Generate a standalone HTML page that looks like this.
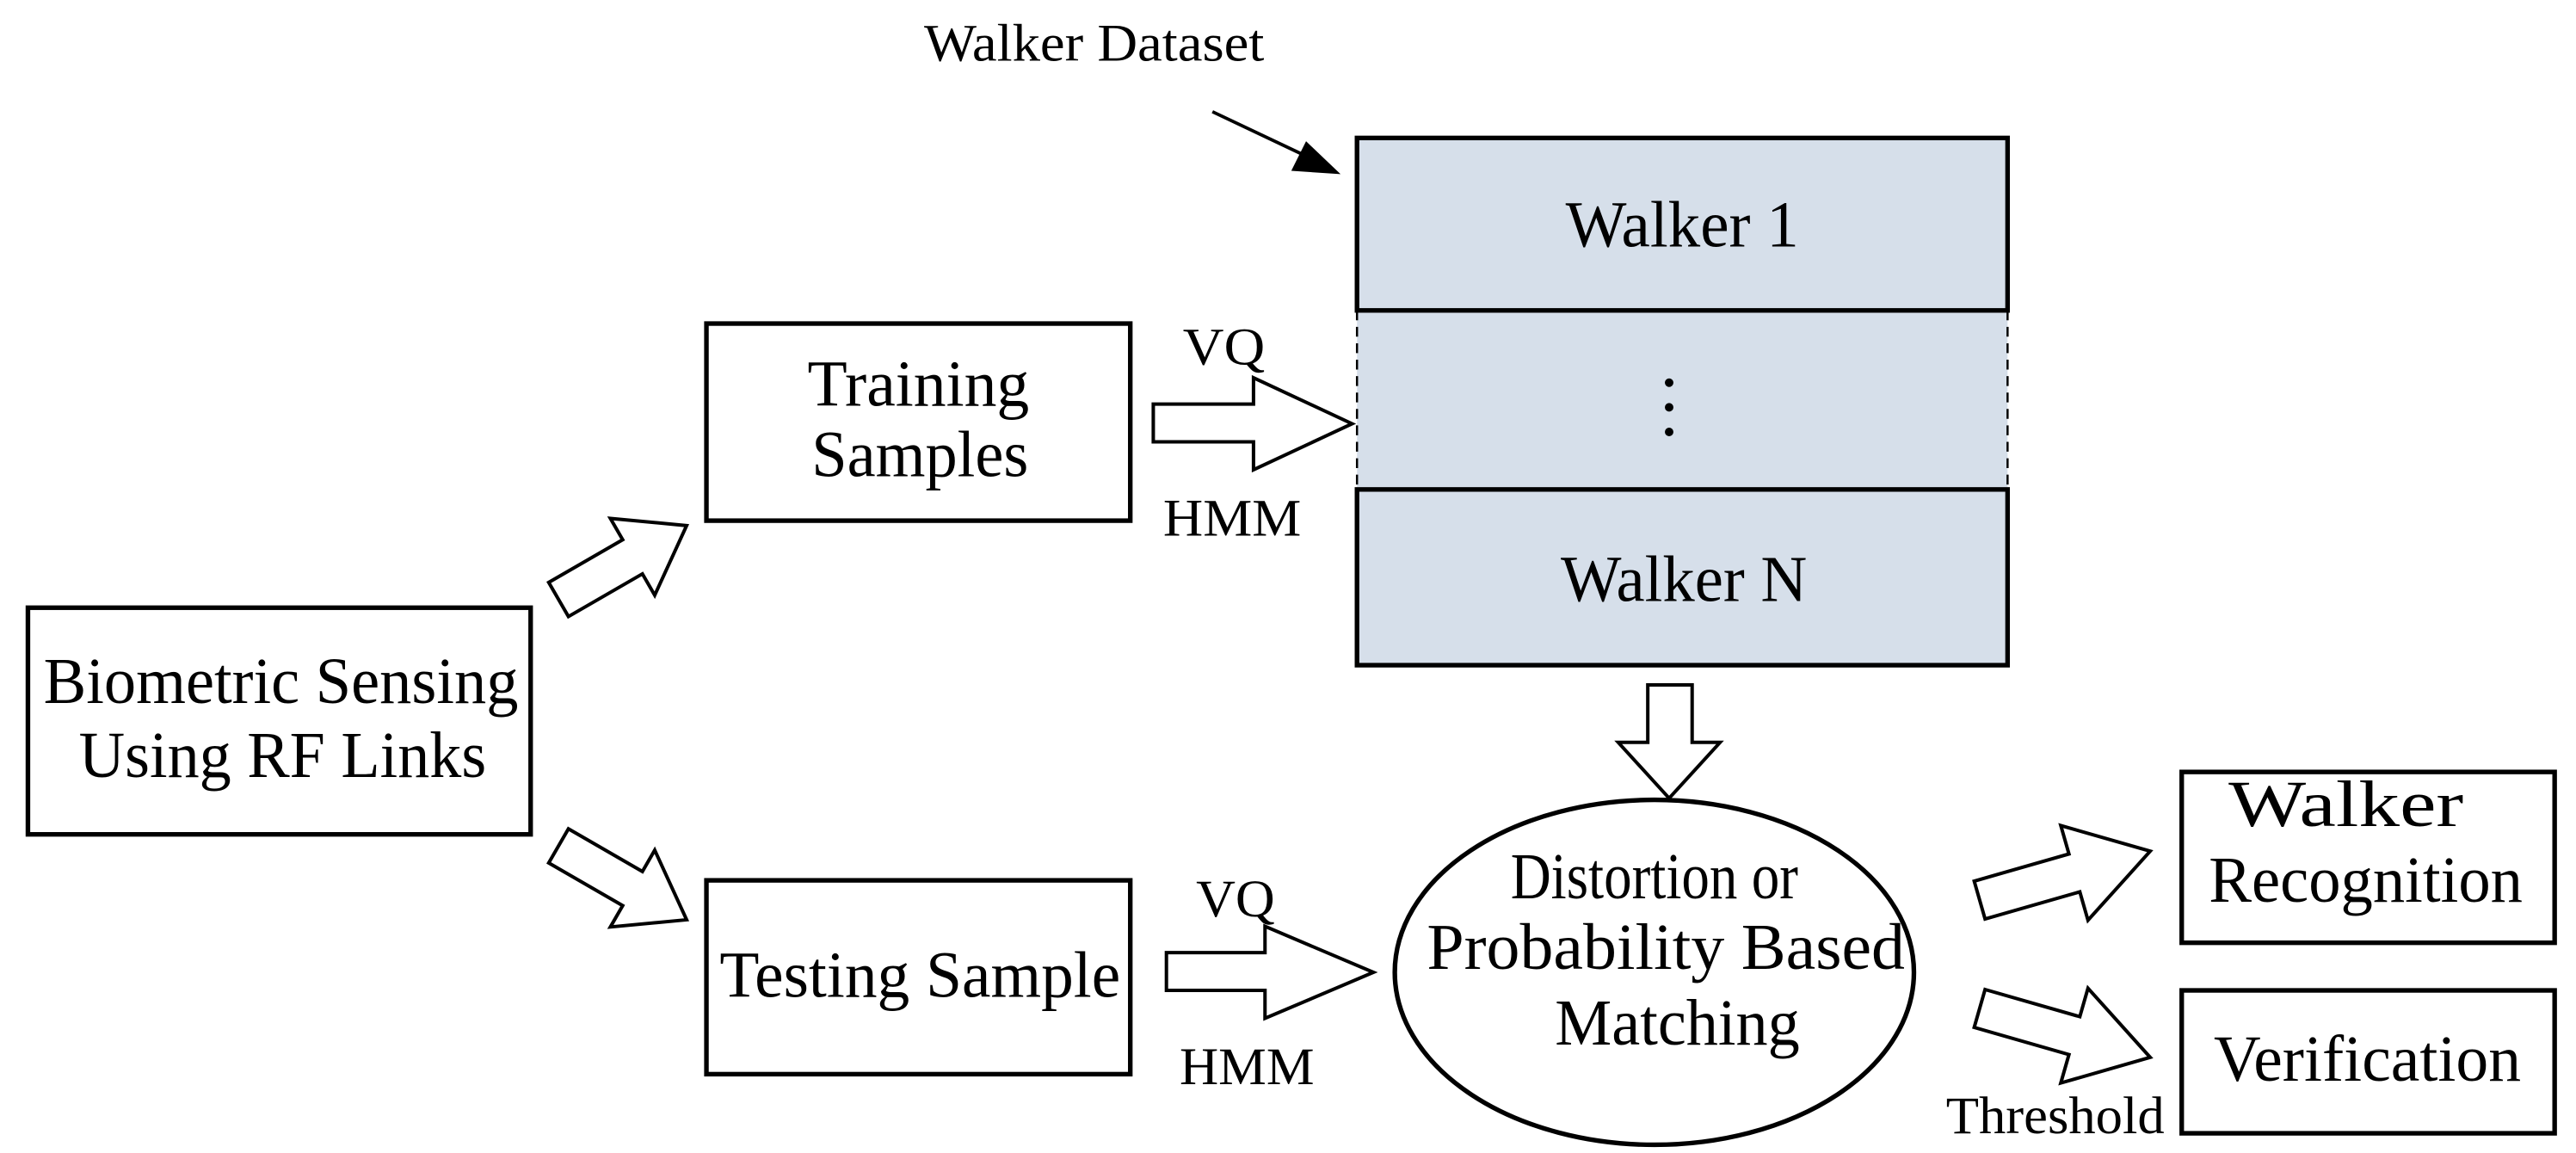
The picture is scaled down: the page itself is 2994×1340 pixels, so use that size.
<!DOCTYPE html>
<html><head><meta charset="utf-8"><style>
html,body{margin:0;padding:0;background:#fff;}
svg{display:block;}
text{font-family:"Liberation Serif",serif;fill:#000;}
</style></head><body>
<svg width="2994" height="1340" viewBox="0 0 1568 702" preserveAspectRatio="none" xmlns="http://www.w3.org/2000/svg">
<g fill="none" stroke="#000" stroke-width="2.8">
<rect x="826" y="84" width="396" height="321" fill="#d6dfea" stroke="none"/>
<rect x="826" y="84" width="396" height="105"/>
<rect x="826" y="298" width="396" height="107"/>
<line x1="826" y1="189" x2="826" y2="298" stroke-width="1.3" stroke-dasharray="6,4"/>
<line x1="1222" y1="189" x2="1222" y2="298" stroke-width="1.3" stroke-dasharray="6,4"/>
<rect x="430" y="197" width="258" height="120" fill="#fff"/>
<rect x="17" y="370" width="306" height="138" fill="#fff"/>
<rect x="430" y="536" width="258" height="118" fill="#fff"/>
<ellipse cx="1007" cy="592" rx="158" ry="105" fill="#fff"/>
<rect x="1328" y="470" width="227" height="104" fill="#fff"/>
<rect x="1328" y="603" width="227" height="87" fill="#fff"/>
</g>
<g fill="#000">
<circle cx="1016" cy="233" r="2.6"/><circle cx="1016" cy="248" r="2.6"/><circle cx="1016" cy="263" r="2.6"/>
</g>
<line x1="738" y1="68" x2="795" y2="95" stroke="#000" stroke-width="2"/>
<polygon points="816,106 786,104 795,86" fill="#000"/>
<g fill="#fff" stroke="#000" stroke-width="2.1" stroke-linejoin="miter">
<polygon points="702,246 763,246 763,230 823,258 763,286 763,269 702,269"/>
<polygon points="710,580 770,580 770,564 836,592 770,620 770,603 710,603"/>
<polygon points="1003,417 1030,417 1030,452 1047,452 1016,486 985,452 1003,452"/>
<g transform="translate(340,365) rotate(-30)"><polygon points="0,-12 52,-12 52,-27 90,0 52,27 52,12 0,12"/></g>
<g transform="translate(340,515) rotate(30)"><polygon points="0,-12 52,-12 52,-27 90,0 52,27 52,12 0,12"/></g>
<g transform="translate(1205,548) rotate(-16)"><polygon points="0,-12 60,-12 60,-30 108,0 60,30 60,12 0,12"/></g>
<g transform="translate(1205,614) rotate(16)"><polygon points="0,-12 60,-12 60,-30 108,0 60,30 60,12 0,12"/></g>
</g>
<g font-size="40" text-anchor="middle">
<text x="171" y="428" textLength="289" lengthAdjust="spacingAndGlyphs">Biometric Sensing</text>
<text x="172" y="473" textLength="248" lengthAdjust="spacingAndGlyphs">Using RF Links</text>
<text x="559" y="247" textLength="135" lengthAdjust="spacingAndGlyphs">Training</text>
<text x="560" y="290" textLength="132" lengthAdjust="spacingAndGlyphs">Samples</text>
<text x="560" y="607" textLength="244" lengthAdjust="spacingAndGlyphs">Testing Sample</text>
<text x="1024" y="150" textLength="142" lengthAdjust="spacingAndGlyphs">Walker 1</text>
<text x="1025" y="366" textLength="150" lengthAdjust="spacingAndGlyphs">Walker N</text>
<text x="1007" y="547" textLength="175" lengthAdjust="spacingAndGlyphs">Distortion or</text>
<text x="1014" y="590" textLength="291" lengthAdjust="spacingAndGlyphs">Probability Based</text>
<text x="1021" y="636" textLength="149" lengthAdjust="spacingAndGlyphs">Matching</text>
<text x="1428" y="503" textLength="143" lengthAdjust="spacingAndGlyphs">Walker</text>
<text x="1440" y="549" textLength="191" lengthAdjust="spacingAndGlyphs">Recognition</text>
<text x="1441" y="658" textLength="187" lengthAdjust="spacingAndGlyphs">Verification</text>
</g>
<g font-size="32" text-anchor="middle">
<text x="666" y="37" textLength="207" lengthAdjust="spacingAndGlyphs">Walker Dataset</text>
<text x="745" y="222" textLength="50" lengthAdjust="spacingAndGlyphs">VQ</text>
<text x="750" y="326" textLength="84" lengthAdjust="spacingAndGlyphs">HMM</text>
<text x="752" y="558" textLength="48" lengthAdjust="spacingAndGlyphs">VQ</text>
<text x="759" y="660" textLength="82" lengthAdjust="spacingAndGlyphs">HMM</text>
<text x="1251" y="690" textLength="133" lengthAdjust="spacingAndGlyphs">Threshold</text>
</g>
</svg>
</body></html>
